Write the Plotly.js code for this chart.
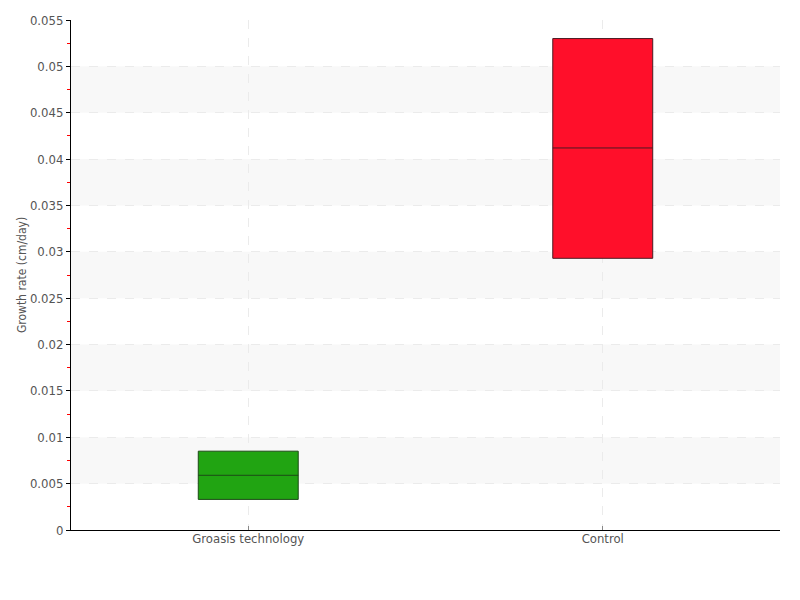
<!DOCTYPE html>
<html>
<head>
<meta charset="utf-8">
<script src="https://cdn.plot.ly/plotly-3.0.1.min.js"></script>
<style>html,body{margin:0;padding:0;background:#fff;}#chart{width:800px;height:600px;}</style>
</head>
<body>
<div id="chart"></div>
<script>
const categories = ["Groasis technology", "Control"];
const q1Values = [0.0033, 0.0293];
const medianValues = [0.0059, 0.0412];
const q3Values = [0.0085, 0.0530];
const boxColors = ["#21a412", "#ff0f2a"];
const lineColors = ["#1d4a17", "#4a1b22"];
const yTickValues = [0, 0.005, 0.01, 0.015, 0.02, 0.025, 0.03, 0.035, 0.04, 0.045, 0.05, 0.055];
const yTickLabels = ["0", "0.005", "0.01", "0.015", "0.02", "0.025", "0.03", "0.035", "0.04", "0.045", "0.05", "0.055"];

const FONT = '"Liberation Sans Narrow", "DejaVu Sans Condensed", "Roboto", sans-serif';

const traces = categories.map((c, i) => ({
  type: 'box',
  name: c,
  x: [c],
  q1: [q1Values[i]],
  median: [medianValues[i]],
  q3: [q3Values[i]],
  lowerfence: [q1Values[i]],
  upperfence: [q3Values[i]],
  fillcolor: boxColors[i],
  line: {color: lineColors[i], width: 1},
  whiskerwidth: 0,
  width: 0.282,
  boxpoints: false,
  hoverinfo: 'skip',
  showlegend: false
}));

// alternating background bands between tick values
const shapes = [];
for (let k = 1; k + 1 < yTickValues.length; k += 2) {
  shapes.push({
    type: 'rect', xref: 'paper', yref: 'y', layer: 'below',
    x0: 0, x1: 1, y0: yTickValues[k], y1: yTickValues[k + 1],
    fillcolor: '#f8f8f8', line: {width: 0}
  });
}

const layout = {
  width: 800, height: 600,
  margin: {l: 71, r: 20, t: 20, b: 70},
  paper_bgcolor: '#fff', plot_bgcolor: '#fff',
  font: {family: FONT, size: 13, color: '#555'},
  boxmode: 'overlay',
  shapes: shapes,
  xaxis: {
    type: 'category',
    categoryarray: categories,
    range: [-0.5, 1.5],
    showline: true, linecolor: '#000', linewidth: 1,
    showgrid: true, gridcolor: '#ebebeb', griddash: 'dash', gridwidth: 1,
    ticks: 'inside', ticklen: 4, tickcolor: '#888',
    ticklabelstandoff: -4,
    tickfont: {family: FONT, size: 13, color: '#555'},
    zeroline: false, fixedrange: true
  },
  yaxis: {
    range: [0, 0.055],
    tickvals: yTickValues, ticktext: yTickLabels,
    showline: true, linecolor: '#000', linewidth: 1,
    showgrid: true, gridcolor: '#ebebeb', griddash: 'dash', gridwidth: 1,
    ticks: 'outside', ticklen: 4, tickcolor: '#000',
    minor: {ticks: 'outside', ticklen: 3, tickcolor: '#ff0000', tickwidth: 1, dtick: 0.0025, tick0: 0, showgrid: false},
    tickfont: {family: FONT, size: 13, color: '#555'},
    zeroline: false, fixedrange: true,
    title: {text: 'Growth rate (cm/day)', font: {family: FONT, size: 12, color: '#555'}, standoff: 0}
  }
};

Plotly.newPlot('chart', traces, layout, {staticPlot: true, displayModeBar: false});
</script>
</body>
</html>
